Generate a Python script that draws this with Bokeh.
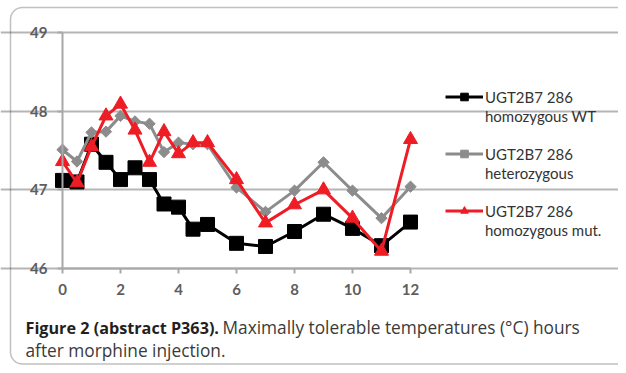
import math
from bokeh.plotting import figure
from bokeh.models import (Range1d, FixedTicker, Legend, LegendItem, Label, BoxAnnotation)
from bokeh.embed import file_html
from bokeh.resources import INLINE

# ---- data ----
hours = [0, 0.5, 1, 1.5, 2, 2.5, 3, 3.5, 4, 4.5, 5, 6, 7, 8, 9, 10, 11, 12]
wt = [47.12, 47.10, 47.58, 47.35, 47.13, 47.28, 47.13, 46.82, 46.78, 46.50,
      46.56, 46.32, 46.28, 46.47, 46.69, 46.51, 46.29, 46.59]
het = [47.51, 47.36, 47.73, 47.74, 47.94, 47.87, 47.84, 47.48, 47.60, 47.58,
       47.58, 47.03, 46.72, 46.99, 47.35, 46.99, 46.64, 47.04]
mut = [47.36, 47.09, 47.55, 47.94, 48.09, 47.76, 47.35, 47.74, 47.46, 47.60,
       47.60, 47.13, 46.58, 46.81, 47.00, 46.64, 46.22, 47.64]
series_names = ["UGT2B7 286", "UGT2B7 286", "UGT2B7 286"]
series_sub = ["homozygous WT", "heterozygous", "homozygous mut."]
x_ticks = [0, 2, 4, 6, 8, 10, 12]
y_ticks = [46, 47, 48, 49]
caption_bold = "Figure 2 (abstract P363)."
caption_rest = "Maximally tolerable temperatures (°C) hours"
caption_line2 = "after morphine injection."

CHART_FONT = "Lato"
CAP_FONT = "Open Sans"

# ---- layout (pixels on the canvas) ----
W, H = 618, 365
PX_LEFT, PX_RIGHT = 62, 410      # where x=0 and x=12 sit
PY_TOP, PY_BOT = 32, 268         # where y=49 and y=46 sit
xmin, xmax = x_ticks[0], x_ticks[-1]
ymin, ymax = y_ticks[0], y_ticks[-1]
xs = (PX_RIGHT - PX_LEFT) / (xmax - xmin)
ys_ = (PY_BOT - PY_TOP) / (ymax - ymin)
x_range = Range1d(xmin - PX_LEFT / xs, xmin + (W - PX_LEFT) / xs)
y_range = Range1d(ymax - (H - PY_TOP) / ys_, ymax + PY_TOP / ys_)

p = figure(width=W, height=H, x_range=x_range, y_range=y_range,
           output_backend="svg", toolbar_location=None, min_border=0)
p.outline_line_color = None
p.background_fill_color = "white"
p.border_fill_color = "white"

p.xgrid.visible = False
p.ygrid.grid_line_color = "#b5b5b5"
p.ygrid.grid_line_width = 2
p.ygrid.bounds = (xmin, xmax)

for ax in (p.xaxis[0], p.yaxis[0]):
    ax.axis_line_color = "#a8a8a8"
    ax.axis_line_width = 2
    ax.major_tick_line_color = "#a8a8a8"
    ax.major_tick_line_width = 2
    ax.major_tick_out = 5
    ax.major_tick_in = 0
    ax.minor_tick_line_color = None
    ax.major_label_text_font = CHART_FONT
    ax.major_label_text_font_style = "bold"
    ax.major_label_text_font_size = "15px"
    ax.major_label_text_color = "#5e5e5e"
    ax.major_label_standoff = 10
p.xaxis.ticker = FixedTicker(ticks=x_ticks)
p.yaxis.ticker = FixedTicker(ticks=y_ticks)
p.xaxis.fixed_location = ymin
p.xaxis.bounds = (xmin, xmax)
p.yaxis.fixed_location = xmin
p.yaxis.bounds = (ymin, ymax)

colors = ["#000000", "#8c8c8c", "#ee1c24"]
renders = []
for ys, col, mk, sz, ang in [(wt, colors[0], "square", 14, 0),
                             (het, colors[1], "square", 8, math.pi / 4),
                             (mut, colors[2], "triangle", 14, 0)]:
    l = p.line(hours, ys, line_color=col, line_width=3)
    s = p.scatter(hours, ys, marker=mk, size=sz, angle=ang, fill_color=col,
                  line_color=col)
    renders.append([l, s])

items = []
for i, (n, sub, r) in enumerate(zip(series_names, series_sub, renders)):
    items.append(LegendItem(label=n, renderers=r))
    items.append(LegendItem(label=sub, renderers=[]))
    if i < 2:
        items.append(LegendItem(label=" ", renderers=[]))

legend = Legend(items=items, location=(445, 126), glyph_width=38, glyph_height=19,
                label_height=19, spacing=0, padding=0, margin=0, label_standoff=2,
                background_fill_alpha=0, border_line_color=None,
                label_text_font=CHART_FONT, label_text_font_size="15px",
                label_text_color="#333333")
p.add_layout(legend)

# caption (screen units from the bottom-left of the canvas)
p.add_layout(Label(x=25, y=H - 327, x_units="screen", y_units="screen", text=caption_bold,
                   text_baseline="middle", text_font=CAP_FONT, text_font_style="bold",
                   text_font_size="16.2px", text_color="#231f20"))
p.add_layout(Label(x=222, y=H - 327, x_units="screen", y_units="screen", text=caption_rest,
                   text_baseline="middle", text_font=CAP_FONT,
                   text_font_size="17.3px", text_color="#3a3a3a"))
p.add_layout(Label(x=25, y=H - 350, x_units="screen", y_units="screen", text=caption_line2,
                   text_baseline="middle", text_font=CAP_FONT,
                   text_font_size="17.3px", text_color="#3a3a3a"))

p.add_layout(BoxAnnotation(left=10, right=700, bottom=1.5, top=H - 7,
                           left_units="screen", right_units="screen",
                           bottom_units="screen", top_units="screen",
                           fill_alpha=0, line_color="#333333", line_width=1.5,
                           border_radius=12))

open("out.html", "w").write(file_html(p, INLINE))
